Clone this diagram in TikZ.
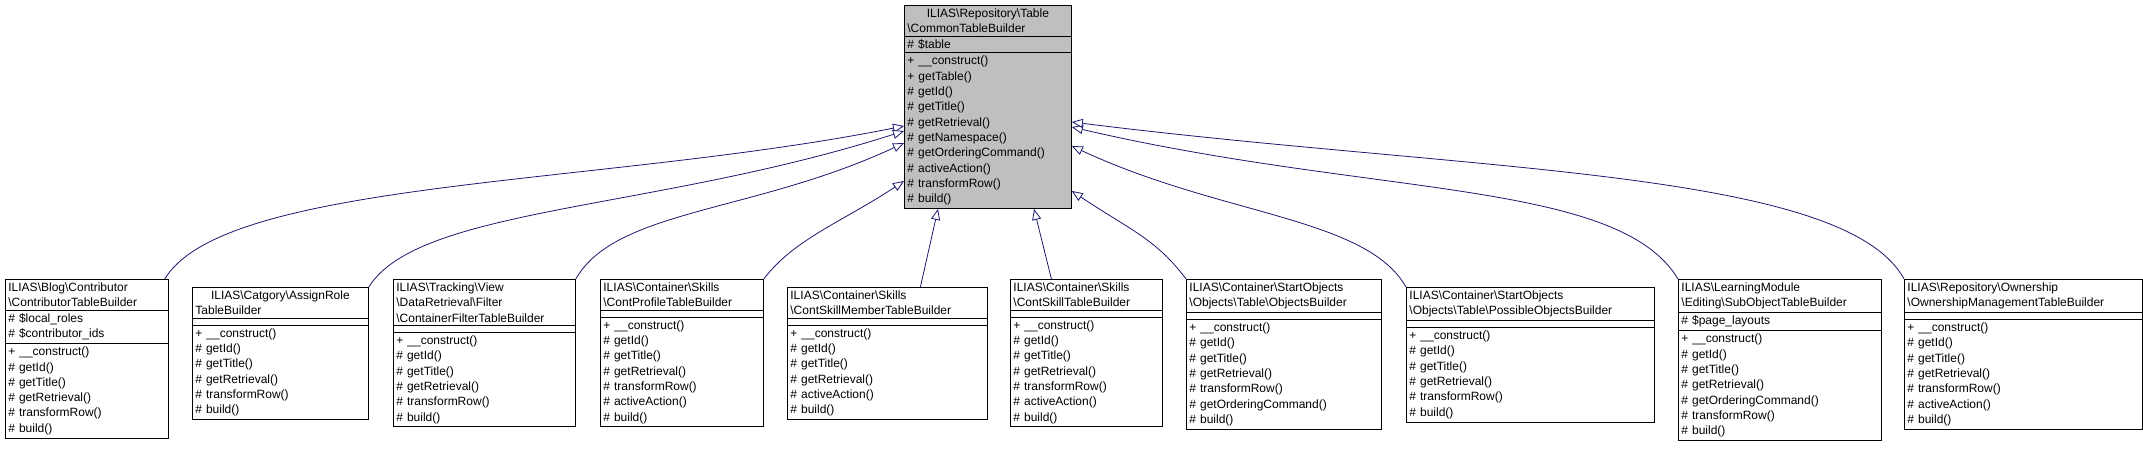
\documentclass[tikz,border=0pt]{standalone}
\usepackage{fontspec}
\setmainfont{Liberation Sans}
\usetikzlibrary{shapes.multipart,arrows.meta}
\newcommand{\bs}{\textbackslash{}}
\begin{document}
\begin{tikzpicture}[x=1pt,y=-1pt,
classnode/.style={rectangle split, rectangle split parts=3, draw=black, fill=white, thick,
anchor=north west, align=left, inner xsep=3pt, inner ysep=3pt,
font=\fontsize{12}{15.3}\selectfont},
basenode/.style={classnode, fill=gray!50},
inherit/.style={draw={rgb,255:red,25;green,25;blue,112}, thick, -{Triangle[open,length=11pt,width=9pt,fill=white]}}
]
\useasboundingbox (0,0) rectangle (2143,463);
%Nodes
\node[basenode, text width=161pt] (common) at (904,5) {\centering ILIAS\bs Repository\bs Table\\\bs CommonTableBuilder
\nodepart{second}\# \$table
\nodepart{third}+ \_\_construct()\\+ getTable()\\\# getId()\\\# getTitle()\\\# getRetrieval()\\\# getNamespace()\\\# getOrderingCommand()\\\# activeAction()\\\# transformRow()\\\# build()};
\node[classnode, text width=157pt] (blog) at (5,279) {ILIAS\bs Blog\bs Contributor\\\bs ContributorTableBuilder
\nodepart{second}\# \$local\_roles\\\# \$contributor\_ids
\nodepart{third}+ \_\_construct()\\\# getId()\\\# getTitle()\\\# getRetrieval()\\\# transformRow()\\\# build()};
\node[classnode, text width=170pt] (assignrole) at (192,287) {\centering ILIAS\bs Catgory\bs AssignRole\\TableBuilder
\nodepart{second}\mbox{}
\nodepart{third}+ \_\_construct()\\\# getId()\\\# getTitle()\\\# getRetrieval()\\\# transformRow()\\\# build()};
\node[classnode, text width=176pt] (containerfilter) at (393,279) {ILIAS\bs Tracking\bs View\\\bs DataRetrieval\bs Filter\\\bs ContainerFilterTableBuilder
\nodepart{second}\mbox{}
\nodepart{third}+ \_\_construct()\\\# getId()\\\# getTitle()\\\# getRetrieval()\\\# transformRow()\\\# build()};
\node[classnode, text width=157pt] (contprofile) at (600,279) {ILIAS\bs Container\bs Skills\\\bs ContProfileTableBuilder
\nodepart{second}\mbox{}
\nodepart{third}+ \_\_construct()\\\# getId()\\\# getTitle()\\\# getRetrieval()\\\# transformRow()\\\# activeAction()\\\# build()};
\node[classnode, text width=194pt] (contskillmember) at (787,287) {ILIAS\bs Container\bs Skills\\\bs ContSkillMemberTableBuilder
\nodepart{second}\mbox{}
\nodepart{third}+ \_\_construct()\\\# getId()\\\# getTitle()\\\# getRetrieval()\\\# activeAction()\\\# build()};
\node[classnode, text width=146pt] (contskill) at (1010,279) {ILIAS\bs Container\bs Skills\\\bs ContSkillTableBuilder
\nodepart{second}\mbox{}
\nodepart{third}+ \_\_construct()\\\# getId()\\\# getTitle()\\\# getRetrieval()\\\# transformRow()\\\# activeAction()\\\# build()};
\node[classnode, text width=189pt] (objects) at (1186,279) {ILIAS\bs Container\bs StartObjects\\\bs Objects\bs Table\bs ObjectsBuilder
\nodepart{second}\mbox{}
\nodepart{third}+ \_\_construct()\\\# getId()\\\# getTitle()\\\# getRetrieval()\\\# transformRow()\\\# getOrderingCommand()\\\# build()};
\node[classnode, text width=242pt] (possibleobjects) at (1406,287) {ILIAS\bs Container\bs StartObjects\\\bs Objects\bs Table\bs PossibleObjectsBuilder
\nodepart{second}\mbox{}
\nodepart{third}+ \_\_construct()\\\# getId()\\\# getTitle()\\\# getRetrieval()\\\# transformRow()\\\# build()};
\node[classnode, text width=197pt] (subobject) at (1678,279) {ILIAS\bs LearningModule\\\bs Editing\bs SubObjectTableBuilder
\nodepart{second}\# \$page\_layouts
\nodepart{third}+ \_\_construct()\\\# getId()\\\# getTitle()\\\# getRetrieval()\\\# getOrderingCommand()\\\# transformRow()\\\# build()};
\node[classnode, text width=232pt] (ownership) at (1904,279) {ILIAS\bs Repository\bs Ownership\\\bs OwnershipManagementTableBuilder
\nodepart{second}\mbox{}
\nodepart{third}+ \_\_construct()\\\# getId()\\\# getTitle()\\\# getRetrieval()\\\# transformRow()\\\# activeAction()\\\# build()};
%Lines
\draw[inherit] ([xshift=-4pt]blog.north east) .. controls +(60,-100) and +(-300,60) .. ([yshift=-121pt]common.north west);
\draw[inherit] (assignrole.north east) .. controls +(50,-80) and +(-250,80) .. ([yshift=-126pt]common.north west);
\draw[inherit] (containerfilter.north east) .. controls +(40,-70) and +(-150,70) .. ([yshift=-138pt]common.north west);
\draw[inherit] (contprofile.north east) .. controls +(30,-40) and +(-60,40) .. ([yshift=-176pt]common.north west);
\draw[inherit] ([xshift=33pt]contskillmember.north) -- ([xshift=34pt]common.south west);
\draw[inherit] ([xshift=-35pt]contskill.north) -- ([xshift=130pt]common.south west);
\draw[inherit] (objects.north west) .. controls +(-30,-40) and +(60,40) .. ([yshift=-186pt]common.north east);
\draw[inherit] (possibleobjects.north west) .. controls +(-40,-70) and +(150,70) .. ([yshift=-141pt]common.north east);
\draw[inherit] (subobject.north west) .. controls +(-60,-100) and +(300,70) .. ([yshift=-122pt]common.north east);
\draw[inherit] (ownership.north west) .. controls +(-60,-110) and +(400,50) .. ([yshift=-117pt]common.north east);
\end{tikzpicture}
\end{document}
